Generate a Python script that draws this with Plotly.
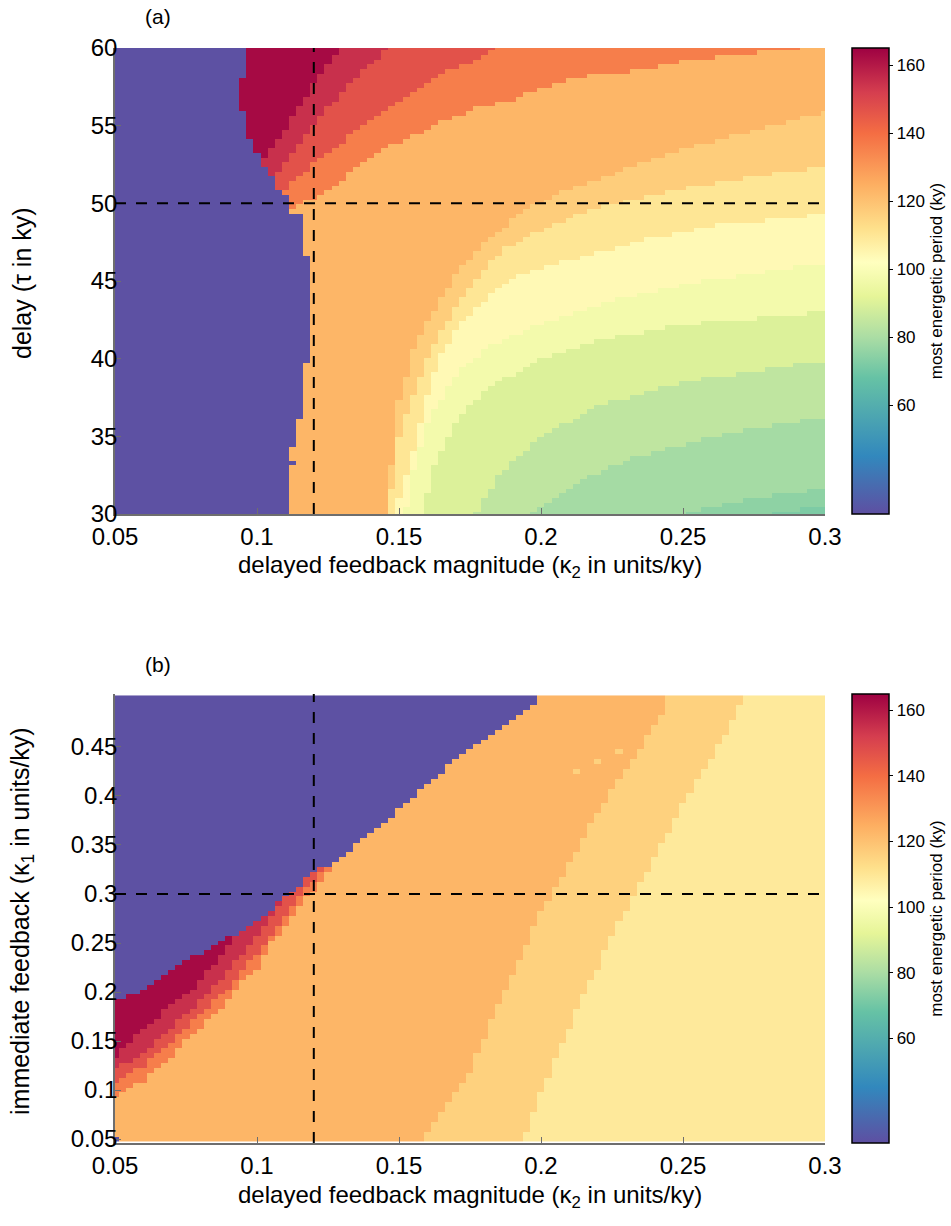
import numpy as np
import plotly.graph_objects as go

# ------------------------------------------------------------------ axes / grids
kappa2_vals = np.linspace(0.05, 0.30, 101)      # delayed feedback magnitude
tau_vals = np.linspace(30.0, 60.0, 101)         # delay (panel a)
kappa1_vals = np.linspace(0.05, 0.50, 91)       # immediate feedback (panel b)

x_tick_vals = [0.05, 0.1, 0.15, 0.2, 0.25, 0.3]
x_tick_text = ["0.05", "0.1", "0.15", "0.2", "0.25", "0.3"]
tau_tick_vals = [30, 35, 40, 45, 50, 55, 60]
k1_tick_vals = [0.05, 0.1, 0.15, 0.2, 0.25, 0.3, 0.35, 0.4, 0.45]
k1_tick_text = ["0.05", "0.1", "0.15", "0.2", "0.25", "0.3", "0.35", "0.4", "0.45"]
cbar_tick_vals = [60, 80, 100, 120, 140, 160]

# reference (dashed) lines
ref_kappa2 = 0.12
ref_tau = 50
ref_kappa1 = 0.3

# ------------------------------------------------------------------ panel (a) values
blue_value = 28.5
# blue (low-period) region: kappa2 below a_blue_kappa for tau >= a_blue_tau (step rows)
a_blue_tau = [30.0, 34.3, 36.1, 39.9, 46.8, 49.5, 50.5, 51.0, 51.7, 52.5, 53.2, 54.3, 55.9, 58.2]
a_blue_kappa = [0.110, 0.1125, 0.115, 0.1175, 0.115, 0.110, 0.1075, 0.105, 0.1025, 0.100, 0.0975, 0.0952, 0.0926, 0.0952]
a_blue_cell_kappa = [0.1137]
a_blue_cell_tau = [33.3]

# contour edges: period >= level where tau >= edge(kappa2)
a_c163_k = [0.090, 0.100, 0.110, 0.120, 0.130]
a_c163_t = [51.5, 52.2, 54.8, 57.7, 60.3]
a_c155_k = [0.095, 0.105, 0.120, 0.130, 0.140, 0.150]
a_c155_t = [50.6, 51.5, 55.2, 57.2, 59.0, 60.5]
a_c147_k = [0.100, 0.110, 0.120, 0.130, 0.140, 0.153, 0.160, 0.167, 0.175, 0.182, 0.186]
a_c147_t = [50.3, 51.0, 52.6, 54.0, 55.4, 57.0, 57.9, 58.5, 59.1, 59.9, 60.5]
a_c136_k = [0.108, 0.120, 0.130, 0.140, 0.150, 0.160, 0.167, 0.177, 0.190, 0.202, 0.215, 0.232, 0.252, 0.277, 0.292, 0.297]
a_c136_t = [49.5, 50.3, 51.6, 52.9, 54.0, 54.8, 55.4, 56.1, 56.7, 57.5, 58.2, 58.5, 59.2, 59.7, 60.0, 60.5]
a_c123_k = [0.144, 0.146, 0.148, 0.150, 0.155, 0.162, 0.172, 0.182, 0.193, 0.207, 0.225, 0.244, 0.267, 0.300]
a_c123_t = [20.0, 31.6, 33.5, 37.4, 40.6, 43.0, 45.9, 47.8, 49.4, 50.7, 51.9, 53.2, 54.3, 55.9]
a_c117_k = [0.145, 0.148, 0.150, 0.153, 0.157, 0.162, 0.168, 0.177, 0.186, 0.200, 0.217, 0.235, 0.263, 0.290, 0.300]
a_c117_t = [29.5, 32.0, 35.0, 36.9, 38.6, 40.8, 42.7, 45.1, 47.0, 48.3, 49.6, 50.4, 51.4, 52.1, 52.5]
a_c110_k = [0.148, 0.150, 0.155, 0.160, 0.164, 0.172, 0.183, 0.193, 0.213, 0.237, 0.262, 0.300]
a_c110_t = [29.5, 31.0, 34.0, 37.8, 40.1, 42.3, 44.3, 45.5, 46.5, 47.7, 48.6, 49.3]
a_c104_k = [0.151, 0.152, 0.155, 0.160, 0.170, 0.180, 0.200, 0.220, 0.250, 0.300]
a_c104_t = [29.5, 30.0, 33.0, 36.0, 39.0, 40.6, 42.3, 43.5, 44.8, 46.2]
a_c97_k = [0.156, 0.158, 0.162, 0.170, 0.180, 0.200, 0.220, 0.250, 0.300]
a_c97_t = [29.5, 30.0, 33.0, 36.0, 38.0, 40.0, 41.2, 42.2, 43.0]
a_c90_k = [0.172, 0.177, 0.185, 0.200, 0.220, 0.250, 0.300]
a_c90_t = [29.5, 30.0, 32.5, 35.0, 37.0, 38.5, 39.9]
a_c84_k = [0.190, 0.195, 0.210, 0.230, 0.260, 0.300]
a_c84_t = [29.5, 30.0, 31.8, 33.5, 35.0, 36.3]
a_c79_k = [0.245, 0.250, 0.270, 0.300]
a_c79_t = [29.5, 30.0, 30.9, 31.7]
a_c75_k = [0.275, 0.280, 0.300]
a_c75_t = [29.5, 30.0, 30.5]
a_floor = 72

# ------------------------------------------------------------------ panel (b) values
# blue region: kappa1 above edge(kappa2)
b_blue_k2 = [0.050, 0.055, 0.066, 0.0775, 0.090, 0.100, 0.106, 0.120, 0.1275, 0.137, 0.1475, 0.160, 0.175, 0.200]
b_blue_k1 = [0.190, 0.195, 0.212, 0.235, 0.256, 0.270, 0.287, 0.322, 0.333, 0.355, 0.379, 0.413, 0.447, 0.500]
b_blue_cell_k2 = [0.05]
b_blue_cell_k1 = [0.05]

b_c163_k2 = [0.050, 0.056, 0.062, 0.068, 0.073, 0.0775, 0.082, 0.086, 0.090, 0.093, 0.096, 0.100]
b_c163_k1 = [0.134, 0.151, 0.168, 0.182, 0.192, 0.205, 0.219, 0.233, 0.250, 0.260, 0.275, 0.600]
b_c155_k2 = [0.050, 0.060, 0.070, 0.080, 0.090, 0.100, 0.106, 0.112, 0.116]
b_c155_k1 = [0.122, 0.138, 0.163, 0.192, 0.222, 0.258, 0.283, 0.305, 0.600]
b_c147_k2 = [0.050, 0.060, 0.070, 0.080, 0.090, 0.100, 0.110, 0.120, 0.125, 0.128]
b_c147_k1 = [0.110, 0.125, 0.148, 0.178, 0.205, 0.240, 0.280, 0.315, 0.335, 0.600]
b_c136_k2 = [0.050, 0.055, 0.060, 0.068, 0.075, 0.080, 0.085, 0.090, 0.095, 0.100, 0.105, 0.110, 0.115, 0.120, 0.125, 0.130, 0.134]
b_c136_k1 = [0.093, 0.103, 0.110, 0.128, 0.151, 0.164, 0.178, 0.192, 0.212, 0.225, 0.253, 0.266, 0.287, 0.305, 0.322, 0.340, 0.600]
b_c123_k2 = [0.155, 0.160, 0.165, 0.170, 0.175, 0.180, 0.185, 0.190, 0.195, 0.200, 0.205, 0.210, 0.215, 0.220, 0.225, 0.230, 0.235, 0.2425, 0.245, 0.246]
b_c123_k1 = [0.040, 0.058, 0.076, 0.097, 0.120, 0.154, 0.189, 0.219, 0.250, 0.282, 0.307, 0.332, 0.358, 0.383, 0.406, 0.430, 0.450, 0.485, 0.503, 0.600]
b_c116_k2 = [0.1925, 0.195, 0.200, 0.205, 0.210, 0.215, 0.220, 0.225, 0.230, 0.235, 0.240, 0.245, 0.250, 0.255, 0.260, 0.265, 0.2725, 0.274]
b_c116_k1 = [0.042, 0.059, 0.097, 0.131, 0.164, 0.199, 0.225, 0.260, 0.284, 0.311, 0.338, 0.365, 0.393, 0.416, 0.440, 0.465, 0.503, 0.600]
b_floor = 109
b_stray_k2 = [0.2275, 0.2200, 0.2125]
b_stray_k1 = [0.445, 0.435, 0.425]
b_stray_val = [116, 116, 116]

# ------------------------------------------------------------------ colours
cmin, cmax = 28, 165
cs_values = [28, 45, 68, 80, 92, 102, 112, 125, 140, 152, 165]
cs_colors = ["#5e4fa2", "#3288bd", "#66c2a5", "#abdda4", "#e6f598", "#ffffbf",
             "#fee08b", "#fdae61", "#f46d43", "#d53e4f", "#9e0142"]
colorscale = [[(v - cmin) / (cmax - cmin), c] for v, c in zip(cs_values, cs_colors)]


def build_field(xs, ys, levels, edges, floor):
    Z = np.full((len(ys), len(xs)), float(floor))
    for lev, (ex, ey) in zip(levels, edges):
        edge = np.interp(xs, ex, ey)
        mask = ys[:, None] >= edge[None, :] - 1e-9
        Z = np.where(mask & (Z < lev), lev, Z)
    return Z


def nearest(arr, v):
    return int(np.argmin(np.abs(arr - v)))


# panel (a) field
Za = build_field(kappa2_vals, tau_vals,
                 [163, 155, 147, 136, 123, 117, 110, 104, 97, 90, 84, 79, 75],
                 [(a_c163_k, a_c163_t), (a_c155_k, a_c155_t), (a_c147_k, a_c147_t),
                  (a_c136_k, a_c136_t), (a_c123_k, a_c123_t), (a_c117_k, a_c117_t),
                  (a_c110_k, a_c110_t), (a_c104_k, a_c104_t), (a_c97_k, a_c97_t),
                  (a_c90_k, a_c90_t), (a_c84_k, a_c84_t), (a_c79_k, a_c79_t),
                  (a_c75_k, a_c75_t)], a_floor)
row_idx = np.searchsorted(a_blue_tau, tau_vals, side="right") - 1
row_idx = np.clip(row_idx, 0, len(a_blue_kappa) - 1)
a_edge = np.array(a_blue_kappa)[row_idx]
Za = np.where(kappa2_vals[None, :] < a_edge[:, None] + 0.0005, blue_value, Za)
for k, t in zip(a_blue_cell_kappa, a_blue_cell_tau):
    Za[nearest(tau_vals, t), nearest(kappa2_vals, k)] = blue_value

# panel (b) field
Zb = build_field(kappa2_vals, kappa1_vals,
                 [163, 155, 147, 136, 123, 116],
                 [(b_c163_k2, b_c163_k1), (b_c155_k2, b_c155_k1), (b_c147_k2, b_c147_k1),
                  (b_c136_k2, b_c136_k1), (b_c123_k2, b_c123_k1), (b_c116_k2, b_c116_k1)],
                 b_floor)
b_edge = np.interp(kappa2_vals, b_blue_k2, b_blue_k1)
Zb = np.where(kappa1_vals[:, None] > b_edge[None, :] + 1e-9, blue_value, Zb)
for k2, k1, v in zip(b_stray_k2, b_stray_k1, b_stray_val):
    Zb[nearest(kappa1_vals, k1), nearest(kappa2_vals, k2)] = v
for k2, k1 in zip(b_blue_cell_k2, b_blue_cell_k1):
    Zb[nearest(kappa1_vals, k1), nearest(kappa2_vals, k2)] = blue_value

# ------------------------------------------------------------------ figure
W, H = 951, 1226
FONT = "Liberation Sans, Arial, Helvetica, sans-serif"


def px_x(p):
    return p / W


def px_y(p):
    return 1 - p / H


fig = go.Figure()
fig.add_trace(go.Heatmap(x=kappa2_vals, y=tau_vals, z=Za, coloraxis="coloraxis",
                         xaxis="x", yaxis="y", hoverinfo="skip"))
fig.add_trace(go.Heatmap(x=kappa2_vals, y=kappa1_vals, z=Zb, coloraxis="coloraxis2",
                         xaxis="x2", yaxis="y2", hoverinfo="skip"))

x_dom = [px_x(115), px_x(825)]
ya_dom = [px_y(514), px_y(48)]
yb_dom = [px_y(1143), px_y(694)]

axis_common = dict(showline=True, linecolor="#6e6e6e", linewidth=1.5, mirror=False,
                   ticks="inside", ticklen=6, tickcolor="#6e6e6e", showgrid=False,
                   zeroline=False, automargin=False,
                   tickfont=dict(family=FONT, size=24, color="black"))
y_extra = dict(ticklabelstandoff=-9)
x_extra = dict(ticklabelstandoff=0)


def cbar(y0, y1):
    return dict(
        x=px_x(852), xanchor="left", xpad=0, ypad=0,
        y=(px_y(y0) + px_y(y1)) / 2, yanchor="middle",
        len=(y1 - y0) / H, lenmode="fraction",
        thickness=37, thicknessmode="pixels",
        outlinecolor="black", outlinewidth=1.5,
        tickvals=cbar_tick_vals, ticks="outside", ticklen=4, tickcolor="black",
        tickfont=dict(family=FONT, size=17, color="black"),
        title=dict(text="most energetic period (ky)", side="right",
                   font=dict(family=FONT, size=17, color="black")),
    )


fig.update_layout(
    width=W, height=H, autosize=False,
    margin=dict(l=0, r=0, t=0, b=0, pad=0, autoexpand=False),
    paper_bgcolor="white", plot_bgcolor="white",
    font=dict(family=FONT, color="black"),
    xaxis=dict(domain=x_dom, anchor="y", range=[0.05, 0.30],
               tickvals=x_tick_vals, ticktext=x_tick_text, **axis_common, **x_extra),
    yaxis=dict(domain=ya_dom, anchor="x", range=[30, 60],
               tickvals=tau_tick_vals, **axis_common, **y_extra),
    xaxis2=dict(domain=x_dom, anchor="y2", range=[0.05, 0.30],
                tickvals=x_tick_vals, ticktext=x_tick_text, **axis_common, **x_extra),
    yaxis2=dict(domain=yb_dom, anchor="x2", range=[0.046, 0.504],
                tickvals=k1_tick_vals, ticktext=k1_tick_text, **axis_common, **y_extra),
    coloraxis=dict(colorscale=colorscale, cmin=cmin, cmax=cmax, colorbar=cbar(48, 514)),
    coloraxis2=dict(colorscale=colorscale, cmin=cmin, cmax=cmax, colorbar=cbar(694, 1143)),
)

dash = dict(color="black", width=2, dash="11px,10px")
fig.add_shape(type="line", xref="x", yref="y", x0=ref_kappa2, x1=ref_kappa2, y0=30, y1=60, line=dash)
fig.add_shape(type="line", xref="x", yref="y", x0=0.05, x1=0.30, y0=ref_tau, y1=ref_tau, line=dash)
fig.add_shape(type="line", xref="x2", yref="y2", x0=ref_kappa2, x1=ref_kappa2, y0=0.046, y1=0.504, line=dash)
fig.add_shape(type="line", xref="x2", yref="y2", x0=0.05, x1=0.30, y0=ref_kappa1, y1=ref_kappa1, line=dash)

xtitle = "delayed feedback magnitude (κ<sub>2</sub> in units/ky)"
for text, ypix in (("(a)", 17), ("(b)", 664)):
    fig.add_annotation(text=text, x=px_x(158), y=px_y(ypix), xref="paper", yref="paper",
                       showarrow=False, xanchor="center", yanchor="middle",
                       font=dict(family=FONT, size=21, color="black"))
for ypix in (566, 1196):
    fig.add_annotation(text=xtitle, x=px_x(470), y=px_y(ypix), xref="paper", yref="paper",
                       showarrow=False, xanchor="center", yanchor="middle",
                       font=dict(family=FONT, size=24, color="black"))
fig.add_annotation(text="delay (τ in ky)", x=px_x(22), y=px_y(283), xref="paper", yref="paper",
                   showarrow=False, textangle=-90, xanchor="center", yanchor="middle",
                   font=dict(family=FONT, size=25, color="black"))
fig.add_annotation(text="immediate feedback (κ<sub>1</sub> in units/ky)", x=px_x(22), y=px_y(921),
                   xref="paper", yref="paper", showarrow=False, textangle=-90,
                   xanchor="center", yanchor="middle",
                   font=dict(family=FONT, size=25, color="black"))

fig.write_html("out.html")
